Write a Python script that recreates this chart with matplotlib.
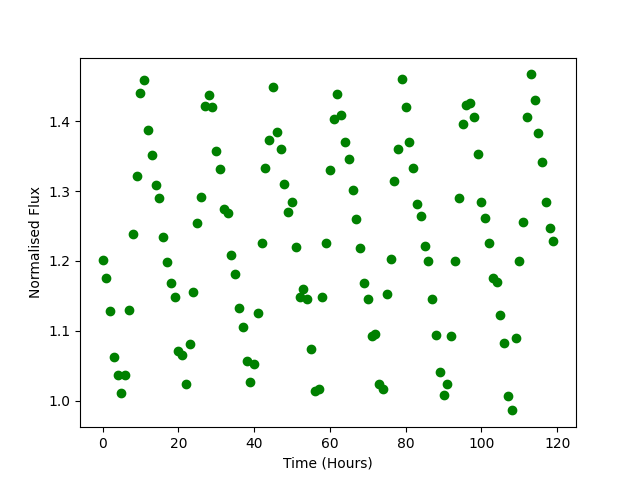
import matplotlib
matplotlib.use("Agg")
import matplotlib.pyplot as plt
import numpy as np

hours = list(range(120))
flux = [1.202, 1.176, 1.129, 1.062, 1.037, 1.011, 1.037, 1.130, 1.238, 1.321,
        1.440, 1.459, 1.387, 1.351, 1.308, 1.290, 1.234, 1.198, 1.169, 1.149,
        1.071, 1.066, 1.024, 1.081, 1.155, 1.254, 1.292, 1.422, 1.438, 1.420,
        1.357, 1.331, 1.274, 1.268, 1.208, 1.181, 1.133, 1.106, 1.057, 1.027,
        1.053, 1.125, 1.225, 1.333, 1.373, 1.449, 1.385, 1.360, 1.310, 1.270,
        1.284, 1.220, 1.149, 1.160, 1.146, 1.074, 1.014, 1.017, 1.148, 1.225,
        1.330, 1.403, 1.439, 1.409, 1.370, 1.346, 1.301, 1.260, 1.218, 1.168,
        1.145, 1.092, 1.095, 1.024, 1.016, 1.152, 1.203, 1.314, 1.360, 1.460,
        1.421, 1.370, 1.333, 1.281, 1.264, 1.221, 1.200, 1.145, 1.094, 1.041,
        1.008, 1.024, 1.092, 1.200, 1.290, 1.396, 1.423, 1.426, 1.406, 1.353,
        1.284, 1.262, 1.225, 1.176, 1.170, 1.122, 1.083, 1.007, 0.986, 1.089,
        1.200, 1.255, 1.406, 1.467, 1.430, 1.383, 1.341, 1.285, 1.247, 1.229]

fig, ax = plt.subplots(figsize=(6.4, 4.8), dpi=100)
ax.plot(hours, flux, 'o', color='green')
ax.set_xlabel("Time (Hours)")
ax.set_ylabel("Normalised Flux")
fig.savefig("out.png")
